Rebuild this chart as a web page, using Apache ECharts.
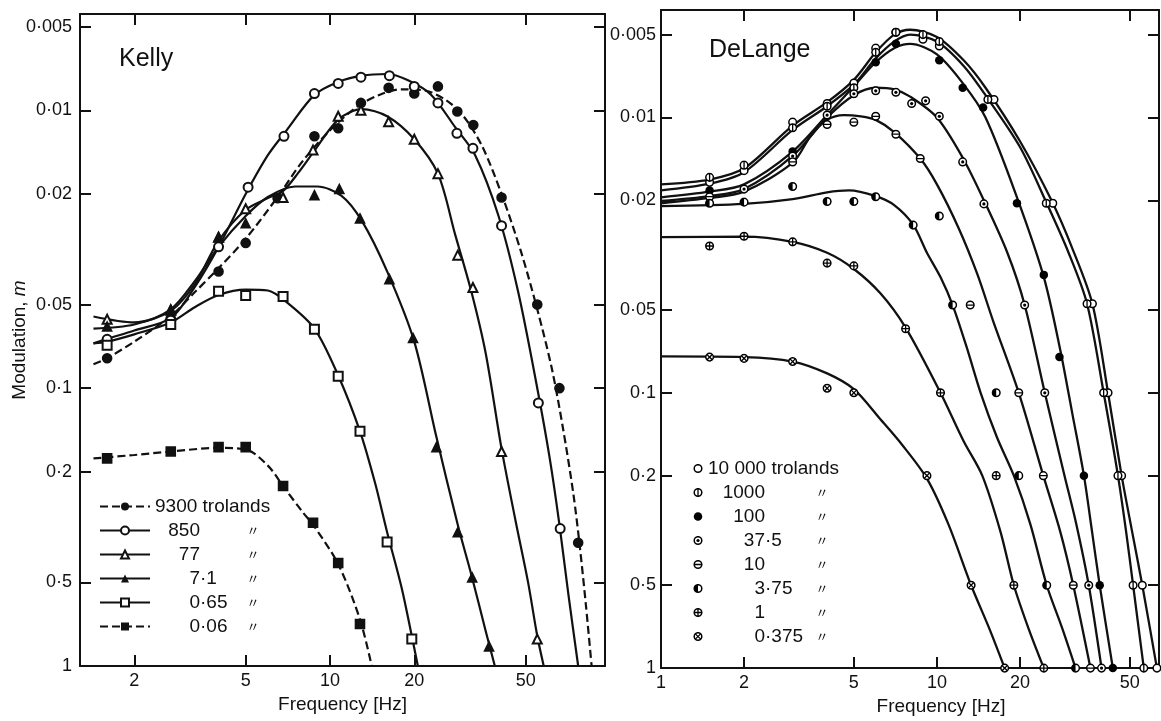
<!DOCTYPE html>
<html>
<head>
<meta charset="utf-8">
<script src="https://cdn.jsdelivr.net/npm/echarts@6/dist/echarts.min.js"></script>
<style>
  html, body { margin: 0; padding: 0; background: #fff; }
  #chart { width: 1161px; height: 721px; }
</style>
</head>
<body>
<div id="chart"></div>
<script>
// ---- axis ticks ----
const xTicksKelly = [2, 5, 10, 20, 50];
const xTicksDeLange = [1, 2, 5, 10, 20, 50];
const yTicks = [0.005, 0.01, 0.02, 0.05, 0.1, 0.2, 0.5, 1];
const yTickText = ['0·005', '0·01', '0·02', '0·05', '0·1', '0·2', '0·5', '1'];

// ---- Kelly: adaptation levels (trolands) ----
const kellyLevels = ['9300', '850', '77', '7·1', '0·65', '0·06'];

// fitted curves, [frequency Hz, modulation m]
const kelly9300Curve = [[1.43,0.082],[1.6,0.078],[2,0.068],[2.7,0.055],[3.3,0.045],[4,0.037],[5,0.029],[6.5,0.0205],[8,0.0152],[10,0.0118],[12.5,0.0097],[15,0.0088],[18,0.0084],[22,0.0085],[26,0.0092],[30,0.0105],[35,0.0135],[41,0.020],[48,0.032],[55,0.052],[62,0.085],[68,0.14],[74,0.24],[78,0.37],[82,0.6],[86,1.0]];
const kelly850Curve = [[1.43,0.069],[1.6,0.0665],[2,0.062],[2.7,0.056],[3.3,0.043],[4,0.031],[5,0.020],[6,0.0145],[7,0.0118],[8.8,0.0088],[10.7,0.0079],[13,0.0075],[16,0.0074],[19,0.0078],[23,0.0088],[28,0.0115],[33,0.0145],[40,0.024],[47,0.045],[55,0.1],[61,0.18],[66,0.31],[71,0.55],[77,1.0]];
const kelly77Curve = [[1.43,0.0552],[2,0.058],[2.7,0.0527],[3.3,0.042],[4,0.0295],[5,0.0228],[6,0.0207],[6.8,0.0195],[7.7,0.0168],[8.7,0.0142],[10.7,0.0108],[13,0.0099],[16,0.0105],[20,0.0127],[24.3,0.0169],[28,0.028],[32,0.045],[36,0.075],[41,0.165],[46,0.3],[51,0.5],[55,0.78],[58,1.0]];
const kelly71Curve = [[1.43,0.061],[2,0.059],[2.7,0.052],[3.3,0.041],[4,0.031],[5,0.024],[6,0.0205],[7.5,0.0188],[9,0.0188],[11,0.0203],[13,0.025],[16,0.038],[20,0.068],[24,0.15],[28.6,0.31],[32,0.47],[36,0.75],[38.8,1.0]];
const kelly065Curve = [[1.43,0.069],[1.6,0.068],[2,0.064],[2.7,0.058],[3.3,0.051],[4,0.0462],[5,0.0442],[6,0.0445],[7,0.049],[8.8,0.061],[10.7,0.09],[12.8,0.143],[14.5,0.22],[16,0.33],[18,0.52],[19.6,0.78],[20.6,1.0]];
const kelly006Curve = [[1.43,0.179],[2,0.174],[2.7,0.169],[4,0.164],[5,0.166],[6,0.19],[6.8,0.225],[8,0.28],[8.7,0.31],[10.7,0.43],[12.8,0.68],[14.1,1.0]];

// measured points
const kelly9300Pts = [[1.6,0.078],[2.7,0.056],[4,0.038],[5,0.030],[6.5,0.0207],[8.8,0.0124],[10.7,0.0116],[12.9,0.0094],[16.2,0.0083],[20,0.0087],[24.3,0.0082],[28.5,0.0101],[32.5,0.0113],[41,0.0206],[55,0.050],[66,0.10],[77,0.36]];
const kelly850Pts = [[1.6,0.0667],[2.7,0.057],[4,0.031],[5.1,0.0189],[6.85,0.0124],[8.8,0.0087],[10.7,0.0080],[12.9,0.0076],[16.3,0.0075],[20,0.0082],[24.3,0.0094],[28.4,0.0121],[32.4,0.0137],[41,0.026],[55.5,0.113],[66.4,0.32]];
const kelly77Pts = [[1.6,0.0565],[2.7,0.0524],[4,0.0286],[5,0.0226],[6.8,0.0206],[8.7,0.0139],[10.7,0.0105],[12.9,0.0100],[16.2,0.011],[20,0.0127],[24.3,0.0169],[28.6,0.0332],[32.4,0.0434],[41,0.169],[55,0.8]];
const kelly71Pts = [[1.6,0.060],[2.7,0.052],[4,0.0286],[5,0.0255],[8.8,0.0202],[10.8,0.0192],[12.8,0.0245],[16.3,0.0405],[19.8,0.066],[24,0.163],[28.6,0.33],[32.2,0.48],[37,0.85]];
const kelly065Pts = [[1.6,0.070],[2.7,0.059],[4,0.0448],[5,0.0464],[6.8,0.0468],[8.8,0.0614],[10.7,0.0905],[12.8,0.143],[16,0.358],[19.6,0.8]];
const kelly006Pts = [[1.6,0.179],[2.7,0.169],[4,0.163],[5,0.163],[6.8,0.225],[8.7,0.305],[10.7,0.426],[12.8,0.706]];

// ---- DeLange: adaptation levels (trolands) ----
const deLangeLevels = ['10 000', '1000', '100', '37·5', '10', '3·75', '1', '0·375'];

const dl10000Curve = [[1,0.0175],[1.5,0.0168],[2,0.0153],[3,0.0107],[4,0.0088],[5,0.0073],[6,0.0058],[7,0.0050],[8,0.0048],[10,0.0051],[12.5,0.0062],[15,0.0078],[20,0.0122],[26,0.0200],[31,0.030],[36.6,0.0475],[41.7,0.1],[46.7,0.2],[51,0.32],[55.5,0.5],[62.7,1]];
const dl1000Curve = [[1,0.0184],[1.5,0.0174],[2,0.0158],[3,0.0111],[4,0.0091],[5,0.0076],[6,0.0061],[7,0.0053],[8,0.0050],[10,0.0053],[12.5,0.0065],[15,0.0083],[20,0.0128],[25,0.0205],[30,0.031],[35,0.0475],[40.2,0.1],[45.3,0.2],[48.5,0.32],[51.4,0.5],[56.2,1]];
const dl100Curve = [[1,0.0195],[1.5,0.0186],[2,0.0175],[3,0.0133],[4,0.0098],[5,0.0077],[6,0.0063],[7,0.0056],[8,0.0054],[10,0.0059],[12.4,0.0075],[15,0.0100],[19.5,0.0195],[24.4,0.038],[28,0.07],[31,0.12],[34.1,0.2],[36.5,0.32],[38.9,0.5],[43.4,1]];
const dl37Curve = [[1,0.0201],[1.5,0.0193],[2,0.0182],[3,0.0138],[4,0.0100],[5,0.0083],[6,0.0078],[7,0.0079],[8,0.0084],[10,0.0100],[12.4,0.0140],[14.8,0.0200],[18,0.031],[20.8,0.048],[24.6,0.1],[29,0.2],[32,0.3],[35.5,0.5],[39.5,1]];
const dl10Curve = [[1,0.0205],[1.5,0.0196],[2,0.0186],[3,0.0146],[3.5,0.0116],[4,0.0102],[4.6,0.0098],[5.3,0.0099],[6,0.0102],[7,0.0113],[8.7,0.0141],[10,0.0175],[12,0.0253],[14,0.037],[16,0.055],[19.8,0.1],[24.3,0.2],[28,0.32],[31.2,0.5],[36,1]];
const dl375Curve = [[1,0.021],[2,0.0206],[3,0.0198],[4,0.0187],[4.8,0.0184],[6,0.0193],[7,0.0208],[8.2,0.0245],[9.2,0.031],[10.3,0.038],[11.4,0.048],[12.8,0.068],[14.4,0.1],[16.5,0.145],[19,0.2],[21.8,0.3],[25,0.5],[28.5,0.72],[31.8,1]];
const dl1Curve = [[1,0.0272],[2,0.0271],[3,0.0283],[4,0.031],[5,0.0355],[6.25,0.0436],[7.7,0.058],[10.3,0.1],[12.5,0.15],[14.6,0.2],[17,0.32],[19,0.5],[21.5,0.72],[24.4,1]];
const dl0375Curve = [[1,0.0738],[2,0.0742],[3,0.077],[4,0.085],[5,0.097],[6.25,0.125],[7.5,0.155],[9.2,0.205],[11,0.3],[13.3,0.5],[15.5,0.72],[17.6,1]];

const dl10000Pts = [[1.5,0.0172],[2,0.0156],[3,0.0104],[4,0.0089],[5,0.0075],[6,0.0056],[7.1,0.0049],[8.9,0.0052],[10.2,0.0055],[16.1,0.0086],[26.3,0.0205],[36.6,0.0475],[41.7,0.1],[46.7,0.2],[55.5,0.5],[62.7,1]];
const dl1000Pts = [[1.5,0.0165],[2,0.0149],[3,0.0109],[4,0.0091],[5,0.0078],[6,0.0058],[7.1,0.0049],[8.9,0.0050],[10.2,0.0053],[15.3,0.0086],[24.9,0.0205],[35,0.0475],[40.2,0.1],[45.3,0.2],[51.4,0.5],[56.2,1]];
const dl100Pts = [[1.5,0.0184],[3,0.0133],[6,0.0063],[7.1,0.0054],[10.2,0.0062],[12.4,0.0078],[14.7,0.0092],[19.5,0.0205],[24.4,0.0373],[27.8,0.0742],[34.1,0.2],[38.9,0.5],[43.4,1]];
const dl37Pts = [[2,0.0182],[3,0.0138],[4,0.0098],[5,0.0082],[6,0.0080],[7.1,0.0081],[8.1,0.0089],[9.1,0.0087],[10.2,0.0099],[12.4,0.0145],[14.8,0.0206],[20.8,0.048],[24.6,0.1],[35.5,0.5],[39.5,1]];
const dl10Pts = [[1.5,0.0194],[3,0.0145],[4,0.0106],[5,0.0104],[6,0.0099],[7.1,0.0115],[8.7,0.0141],[13.2,0.048],[19.8,0.1],[24.3,0.2],[31.2,0.5],[36,1]];
const dl375Pts = [[1.5,0.0205],[2,0.0203],[3,0.0178],[4,0.0202],[5,0.0202],[6,0.0194],[8.2,0.0246],[10.2,0.0228],[11.4,0.048],[16.4,0.1],[19.8,0.2],[25,0.5],[31.8,1]];
const dl1Pts = [[1.5,0.0293],[2,0.027],[3,0.0283],[4,0.0338],[5,0.0346],[7.7,0.0585],[10.3,0.1],[16.4,0.2],[19,0.5],[24.4,1]];
const dl0375Pts = [[1.5,0.0742],[2,0.075],[3,0.077],[4,0.0963],[5,0.1],[9.2,0.2],[13.3,0.5],[17.6,1]];

// ---- styling helpers ----
const INK = '#111';
const FONT = '"Liberation Sans", Arimo, Arial, sans-serif';
const DITTO_FONT = '"Noto Sans CJK JP", "Noto Sans CJK SC", sans-serif';
const LEGEND_SIZE = 19;
const DITTO_SIZE = 13;

function svgSymbol(inner) {
  const svg = "<svg xmlns='http://www.w3.org/2000/svg' width='40' height='40' viewBox='-10 -10 20 20'>" + inner + "</svg>";
  return 'image://data:image/svg+xml;charset=utf-8,' + encodeURIComponent(svg);
}
const ring = "<circle r='7.6' fill='white' stroke='black' stroke-width='3'/>";
const vbar = "<line x1='0' y1='-7.5' x2='0' y2='7.5' stroke='black' stroke-width='2.6'/>";
const hbar = "<line x1='-7.5' y1='0' x2='7.5' y2='0' stroke='black' stroke-width='2.6'/>";
const xbar = "<line x1='-5.3' y1='-5.3' x2='5.3' y2='5.3' stroke='black' stroke-width='2.6'/><line x1='-5.3' y1='5.3' x2='5.3' y2='-5.3' stroke='black' stroke-width='2.6'/>";

const kellyCurves = [kelly9300Curve, kelly850Curve, kelly77Curve, kelly71Curve, kelly065Curve, kelly006Curve];
const kellyPts = [kelly9300Pts, kelly850Pts, kelly77Pts, kelly71Pts, kelly065Pts, kelly006Pts];
const kellySymbols = ['circle', 'emptyCircle', 'emptyTriangle', 'triangle', 'emptyRect', 'rect'];
const kellyDashed = [true, false, false, false, false, true];

const dlCurves = [dl10000Curve, dl1000Curve, dl100Curve, dl37Curve, dl10Curve, dl375Curve, dl1Curve, dl0375Curve];
const dlPts = [dl10000Pts, dl1000Pts, dl100Pts, dl37Pts, dl10Pts, dl375Pts, dl1Pts, dl0375Pts];
const dlSymbols = [
  svgSymbol(ring),
  svgSymbol(ring + vbar),
  svgSymbol("<circle r='8.5' fill='black'/>"),
  svgSymbol(ring + "<circle r='3.2' fill='black'/>"),
  svgSymbol(ring + hbar),
  svgSymbol(ring + "<path d='M0,-7.6 A7.6,7.6 0 0,0 0,7.6 Z' fill='black'/>"),
  svgSymbol(ring + vbar + hbar),
  svgSymbol(ring + xbar)
];

function tickText(v, list, texts) {
  for (let i = 0; i < list.length; i++) {
    if (Math.abs(list[i] - v) / list[i] < 1e-6) return texts[i];
    if (Math.abs(Math.pow(10, v) - list[i]) / list[i] < 1e-6) return texts[i];
  }
  return '';
}

// text measuring for decimal-aligned legend entries
const measureCtx = document.createElement('canvas').getContext('2d');
function textWidth(str, size, family) {
  measureCtx.font = size + 'px ' + family;
  return measureCtx.measureText(str).width;
}

// Builds a legend formatter + rich styles: numbers aligned on the decimal point
// (at `pointOffset` px from the text start), ditto mark centred at `dittoOffset`.
function decimalLegend(levels, firstText, pointOffset, dittoOffset) {
  const rich = {
    t: { fontFamily: FONT, fontSize: LEGEND_SIZE, color: INK, lineHeight: 20 },
    f: { fontFamily: FONT, fontSize: LEGEND_SIZE, color: INK, lineHeight: 20 }
  };
  const wDitto = textWidth('〃', DITTO_SIZE, DITTO_FONT);
  const lines = {};
  levels.forEach((name, k) => {
    if (k === 0) { lines[name] = '{t|' + firstText + '}'; return; }
    const parts = name.split('·');
    const intPart = parts[0];
    const frac = parts.length > 1 ? '·' + parts[1] : '';
    const wi = textWidth(intPart, LEGEND_SIZE, FONT);
    const wf = frac ? textWidth(frac, LEGEND_SIZE, FONT) : 0;
    rich['n' + k] = { fontFamily: FONT, fontSize: LEGEND_SIZE, color: INK, lineHeight: 20, padding: [0, 0, 0, Math.max(0, pointOffset - wi)] };
    rich['d' + k] = { fontFamily: DITTO_FONT, fontSize: DITTO_SIZE, color: INK, lineHeight: 20, padding: [0, 0, 0, Math.max(0, dittoOffset - pointOffset - wf - wDitto / 2)] };
    lines[name] = '{n' + k + '|' + intPart + '}' + (frac ? '{f|' + frac + '}' : '') + '{d' + k + '|〃}';
  });
  return { formatter: name => lines[name], rich };
}

const series = [];
kellyLevels.forEach((name, i) => {
  series.push({
    name, type: 'line', xAxisIndex: 0, yAxisIndex: 0,
    data: kellyCurves[i], smooth: 0.3, showSymbol: false,
    symbol: kellySymbols[i], symbolSize: 9,
    lineStyle: { color: INK, width: 2.2, type: kellyDashed[i] ? [8, 4] : 'solid' },
    itemStyle: { color: INK },
    z: 2
  });
});
kellyLevels.forEach((name, i) => {
  series.push({
    name, type: 'scatter', xAxisIndex: 0, yAxisIndex: 0,
    data: kellyPts[i], symbol: kellySymbols[i], symbolSize: 9,
    itemStyle: { color: INK, borderColor: INK, borderWidth: 1.6, opacity: 1 },
    z: 4
  });
});
deLangeLevels.forEach((name, i) => {
  series.push({
    name, type: 'scatter', xAxisIndex: 2, yAxisIndex: 2,
    data: dlPts[i], symbol: dlSymbols[i], symbolSize: 10, symbolKeepAspect: true,
    itemStyle: { color: INK, opacity: 1 },
    z: 4
  });
});
deLangeLevels.forEach((name, i) => {
  series.push({
    name: name + ' fit', type: 'line', xAxisIndex: 2, yAxisIndex: 2,
    data: dlCurves[i], smooth: 0.3, showSymbol: false, symbol: 'none',
    lineStyle: { color: INK, width: 2.3 },
    itemStyle: { color: INK },
    z: 2
  });
});

function xAxisPair(grid, min, max, ticks, namePad) {
  const line = { lineStyle: { color: INK, width: 2 } };
  const tick = { inside: true, length: 11, customValues: ticks, lineStyle: { color: INK, width: 2 } };
  return [
    {
      gridIndex: grid, type: 'log', logBase: 10, min, max, position: 'bottom',
      axisLine: line, axisTick: tick, splitLine: { show: false }, minorTick: { show: false },
      axisLabel: {
        customValues: ticks, margin: 6, color: INK, fontFamily: FONT, fontSize: 18,
        formatter: v => tickText(v, ticks, ticks.map(String))
      },
      name: 'Frequency [Hz]', nameLocation: 'middle', nameGap: 28,
      nameTextStyle: { color: INK, fontFamily: FONT, fontSize: 19, padding: namePad }
    },
    {
      gridIndex: grid, type: 'log', logBase: 10, min, max, position: 'top',
      axisLine: line, axisTick: tick, splitLine: { show: false }, minorTick: { show: false },
      axisLabel: { show: false }
    }
  ];
}

function yAxisPair(grid, min, max, margin, withName) {
  const line = { lineStyle: { color: INK, width: 2 } };
  const tick = { inside: true, length: 11, customValues: yTicks, lineStyle: { color: INK, width: 2 } };
  return [
    {
      gridIndex: grid, type: 'log', logBase: 10, min, max, inverse: true, position: 'left',
      axisLine: line, axisTick: tick, splitLine: { show: false }, minorTick: { show: false },
      axisLabel: {
        customValues: yTicks, margin, color: INK, fontFamily: FONT, fontSize: 18,
        formatter: v => tickText(v, yTicks, yTickText)
      },
      name: withName ? '{a|Modulation, }{b|m}' : '', nameLocation: 'middle', nameGap: 51,
      nameMoveOverlap: false,
      nameTextStyle: {
        color: INK, fontFamily: FONT, fontSize: 19,
        rich: { a: { fontFamily: FONT, fontSize: 19, color: INK }, b: { fontFamily: FONT, fontSize: 19, fontStyle: 'italic', color: INK } }
      }
    },
    {
      gridIndex: grid, type: 'log', logBase: 10, min, max, inverse: true, position: 'right',
      axisLine: line, axisTick: tick, splitLine: { show: false }, minorTick: { show: false },
      axisLabel: { show: false }
    }
  ];
}

const kellyLegend = decimalLegend(kellyLevels, '9300 trolands', 45, 98);
const deLangeLegend = decimalLegend(deLangeLevels, '10 000 trolands', 57, 114);

const option = {
  backgroundColor: '#fff',
  animation: false,
  title: [
    { text: 'Kelly', left: 114, top: 42, textStyle: { color: INK, fontFamily: FONT, fontSize: 25, fontWeight: 'normal' } },
    { text: 'DeLange', left: 704, top: 33, textStyle: { color: INK, fontFamily: FONT, fontSize: 25, fontWeight: 'normal' } }
  ],
  grid: [
    { left: 80, top: 14, width: 525, height: 652 },
    { left: 661, top: 10, width: 498, height: 661 }
  ],
  xAxis: [
    ...xAxisPair(0, 1.28, 96, xTicksKelly, [0, 0, 0, 0]),
    ...xAxisPair(1, 1, 63.8, xTicksDeLange, [0, 0, 0, 62])
  ],
  yAxis: [
    ...yAxisPair(0, 0.0045, 1, 8, true),
    ...yAxisPair(1, 0.00407, 1, 5, false)
  ],
  legend: [
    {
      data: kellyLevels, orient: 'vertical', left: 94, top: 492,
      itemWidth: 50, itemHeight: 10, itemGap: 5, selectedMode: false,
      formatter: kellyLegend.formatter,
      textStyle: { color: INK, fontFamily: FONT, fontSize: LEGEND_SIZE, rich: kellyLegend.rich }
    },
    {
      data: deLangeLevels, orient: 'vertical', left: 688, top: 454,
      itemWidth: 10, itemHeight: 10, itemGap: 5, selectedMode: false,
      formatter: deLangeLegend.formatter,
      textStyle: { color: INK, fontFamily: FONT, fontSize: LEGEND_SIZE, rich: deLangeLegend.rich }
    }
  ],
  series
};

const chart = echarts.init(document.getElementById('chart'));
chart.setOption(option);
</script>
</body>
</html>
